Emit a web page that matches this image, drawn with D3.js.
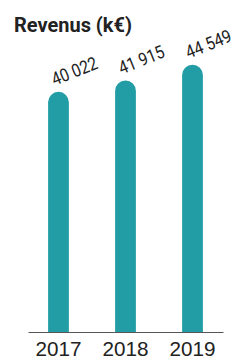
<!DOCTYPE html>
<html>
<head>
<meta charset="utf-8">
<script src="https://cdn.jsdelivr.net/npm/d3@7"></script>
<style>
  body { margin: 0; background: #fff; }
  svg { display: block; font-family: Roboto, "Noto Sans", sans-serif; }
</style>
</head>
<body>
<div class="canvas"></div>
<script>
// the data
var years = ['2017', '2018', '2019'],
    revenues = [40022, 41915, 44549],
    value_labels = ['40 022', '41 915', '44 549'],
    title = 'Revenus (k€)';

var width = 241,
    height = 358,
    base_y = 332;

var svg = d3.select('.canvas').append('svg')
    .attr('width', width)
    .attr('height', height);

var x = d3.scaleBand()
    .domain(years)
    .range([28, 223])
    .paddingInner(0.69)
    .paddingOuter(0.3);

var y = d3.scaleLinear()
    .domain([0, 50000])
    .range([base_y, 32]);

// bar with a round top
function bar_path(d) {
    var x0 = x(d.year),
        w = x.bandwidth(),
        r = w / 2,
        top = y(d.value);
    return 'M' + x0 + ',' + base_y +
        'L' + x0 + ',' + (top + r) +
        'A' + r + ',' + r + ' 0 0 1 ' + (x0 + w) + ',' + (top + r) +
        'L' + (x0 + w) + ',' + base_y + 'Z';
}

var data = years.map(function (yr, i) {
    return { year: yr, value: revenues[i], label: value_labels[i] };
});

svg.append('text')
    .attr('x', 14)
    .attr('y', 31.5)
    .attr('font-size', 19.5)
    .attr('font-weight', 'bold')
    .attr('fill', '#222')
    .attr('textLength', 118)
    .attr('lengthAdjust', 'spacingAndGlyphs')
    .text(title);

svg.selectAll('path.bar')
    .data(data)
    .enter()
    .append('path')
    .attr('class', 'bar')
    .attr('d', bar_path)
    .attr('fill', '#229da5');

svg.selectAll('text.val')
    .data(data)
    .enter()
    .append('text')
    .attr('class', 'val')
    .attr('transform', function (d) {
        return 'translate(' + (x(d.year) + x.bandwidth() / 2 - 4) + ',' + (y(d.value) - 6) + ') rotate(-22)';
    })
    .attr('font-size', 18)
    .attr('fill', '#222')
    .attr('textLength', 48)
    .attr('lengthAdjust', 'spacingAndGlyphs')
    .text(function (d) { return d.label; });

var axis = svg.append('g')
    .attr('transform', 'translate(0,' + base_y + ')')
    .call(d3.axisBottom(x).tickSize(0).tickSizeOuter(0).tickPadding(0));

axis.select('.domain')
    .attr('stroke', '#555')
    .attr('stroke-width', 1.2);

axis.selectAll('text')
    .attr('font-size', 20.5)
    .attr('fill', '#222')
    .attr('dy', null)
    .attr('y', 23.5)
    .attr('textLength', 46)
    .attr('lengthAdjust', 'spacingAndGlyphs');
</script>
</body>
</html>
